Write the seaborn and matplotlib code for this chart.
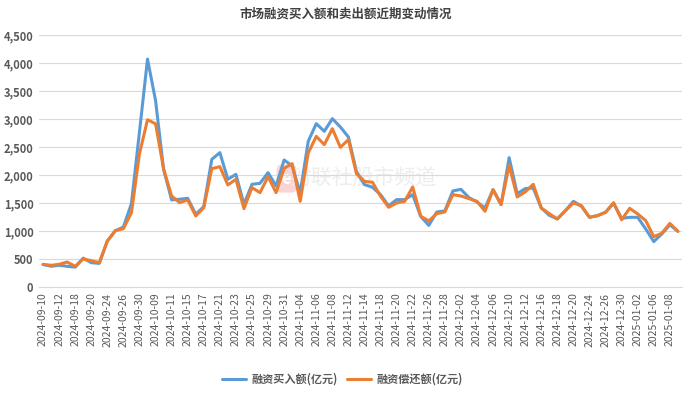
import pandas as pd
import matplotlib.pyplot as plt
import seaborn as sns

# trading days shown on the chart
dates = [
    '2024-09-10', '2024-09-11', '2024-09-12', '2024-09-13', '2024-09-18', '2024-09-19',
    '2024-09-20', '2024-09-23', '2024-09-24', '2024-09-25', '2024-09-26', '2024-09-27',
    '2024-09-30', '2024-10-08', '2024-10-09', '2024-10-10', '2024-10-11', '2024-10-14',
    '2024-10-15', '2024-10-16', '2024-10-17', '2024-10-18', '2024-10-21', '2024-10-22',
    '2024-10-23', '2024-10-24', '2024-10-25', '2024-10-28', '2024-10-29', '2024-10-30',
    '2024-10-31', '2024-11-01', '2024-11-04', '2024-11-05', '2024-11-06', '2024-11-07',
    '2024-11-08', '2024-11-11', '2024-11-12', '2024-11-13', '2024-11-14', '2024-11-15',
    '2024-11-18', '2024-11-19', '2024-11-20', '2024-11-21', '2024-11-22', '2024-11-25',
    '2024-11-26', '2024-11-27', '2024-11-28', '2024-11-29', '2024-12-02', '2024-12-03',
    '2024-12-04', '2024-12-05', '2024-12-06', '2024-12-09', '2024-12-10', '2024-12-11',
    '2024-12-12', '2024-12-13', '2024-12-16', '2024-12-17', '2024-12-18', '2024-12-19',
    '2024-12-20', '2024-12-23', '2024-12-24', '2024-12-25', '2024-12-26', '2024-12-27',
    '2024-12-30', '2024-12-31', '2025-01-02', '2025-01-03', '2025-01-06', '2025-01-07',
    '2025-01-08', '2025-01-09',
]

# 融资买入额 (亿元)
buy = [
    400, 370, 387, 369, 355, 515, 434, 422, 821, 1005,
    1071, 1490, 2770, 4070, 3330, 2100, 1555, 1566, 1584, 1300,
    1435, 2280, 2399, 1923, 2012, 1477, 1834, 1851, 2042, 1804,
    2268, 2161, 1680, 2601, 2917, 2780, 3006, 2857, 2679, 2060,
    1828, 1780, 1649, 1450, 1560, 1560, 1649, 1260, 1100, 1340,
    1358, 1715, 1744, 1596, 1518, 1411, 1738, 1471, 2310, 1667,
    1756, 1768, 1411, 1280, 1215, 1363, 1530, 1441, 1244, 1274,
    1334, 1495, 1225, 1244, 1244, 1036, 810, 947, 1110, 994,
]

# 融资偿还额 (亿元)
repay = [
    405, 387, 405, 446, 369, 500, 470, 434, 821, 1005,
    1041, 1327, 2380, 2987, 2915, 2110, 1625, 1506, 1554, 1268,
    1417, 2113, 2149, 1822, 1923, 1399, 1774, 1685, 1970, 1685,
    2119, 2202, 1530, 2393, 2690, 2542, 2827, 2494, 2631, 2024,
    1887, 1870, 1620, 1423, 1500, 1530, 1786, 1265, 1179, 1310,
    1340, 1649, 1625, 1578, 1530, 1352, 1738, 1471, 2173, 1608,
    1697, 1834, 1411, 1310, 1215, 1363, 1500, 1453, 1244, 1274,
    1334, 1505, 1200, 1405, 1304, 1185, 899, 959, 1135, 994,
]

series_names = ['融资买入额(亿元)', '融资偿还额(亿元)']
colors = ['#5B9BD5', '#ED7D31']

df = pd.DataFrame({
    'date': dates * 2,
    'value': buy + repay,
    'series': [series_names[0]] * len(dates) + [series_names[1]] * len(dates),
})

sns.set_style('white')
plt.rcParams['font.family'] = ['Noto Sans CJK SC', 'DejaVu Sans']

fig = plt.figure(figsize=(6.92, 3.94), dpi=100)
ax = fig.add_axes([0.0564, 0.2716, 0.929, 0.6396])

sns.lineplot(data=df, x='date', y='value', hue='series', palette=colors,
             linewidth=2.2, ax=ax, sort=False)

ax.set_xlim(-0.5, len(dates) - 0.5)
ax.set_ylim(0, 4500)
ax.set_yticks(range(0, 4501, 500))
ax.set_yticklabels([f'{v:,}' for v in range(0, 4501, 500)],
                   fontsize=8, color='#595959', fontweight='bold')
tick_pos = list(range(0, len(dates), 2))
ax.set_xticks(tick_pos)
ax.set_xticklabels([dates[i] for i in tick_pos], rotation=90,
                   fontsize=7.5, color='#595959')
ax.tick_params(axis='both', length=0, pad=4)
ax.grid(axis='y', color='#D9D9D9', linewidth=0.8)
for s in ['top', 'right', 'left']:
    ax.spines[s].set_visible(False)
ax.spines['bottom'].set_color('#D9D9D9')
ax.set_xlabel('')
ax.set_ylabel('')

# watermark
ax.text(0.385, 0.43, 'e', transform=ax.transAxes, fontsize=12, fontweight='bold',
        color='white', ha='center', va='center', zorder=0,
        bbox=dict(boxstyle='round,pad=0.3', fc='#F9D5D8', ec='none'))
ax.text(0.505, 0.43, '财联社股市频道', transform=ax.transAxes, fontsize=15,
        color='#EDEDED', ha='center', va='center', zorder=0)

fig.text(0.5, 0.965, '市场融资买入额和卖出额近期变动情况', ha='center', va='center',
         fontsize=9, fontweight='bold', color='#404040')

leg = ax.legend(loc='center', bbox_to_anchor=(0.472, -0.365), ncol=2,
                frameon=False, fontsize=8, handlelength=2.2, handletextpad=0.5,
                columnspacing=0.8, labelcolor='#595959')
for t in leg.get_texts():
    t.set_fontweight('bold')

fig.savefig('out.png', dpi=100)
